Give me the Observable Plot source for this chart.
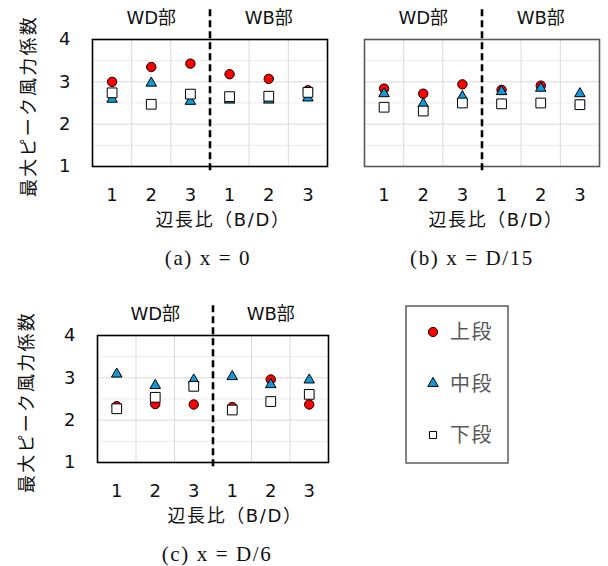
<!DOCTYPE html>
<html>
<head>
<meta charset="utf-8">
<script src="https://cdn.jsdelivr.net/npm/d3@7"></script>
<script src="https://cdn.jsdelivr.net/npm/@observablehq/plot@0.6"></script>
<style>
  body { margin: 0; background: #fff; }
  #root { position: relative; width: 608px; height: 566px; background: #fff; overflow: hidden; }
  .abs { position: absolute; white-space: nowrap; transform: translate(-50%, -50%); }
  .sans { font-family: "DejaVu Sans", "Noto Sans CJK JP", sans-serif; color: #111; }
  .serif { font-family: "Liberation Serif", "DejaVu Serif", serif; color: #111; }
  .ylab { transform: translate(-50%, -50%) rotate(-90deg); }
  .pl { position: absolute; }
</style>
</head>
<body>
<div id="root"></div>
<script>
// ---- data ----
const ratios = ["1", "2", "3", "1", "2", "3"];          // 辺長比 (B/D) tick labels
const groups = ["WD部", "WB部"];
const seriesNames = ["上段", "中段", "下段"];
const yTicks = [1, 2, 3, 4];
const yLabel = "最大ピーク風力係数";
const xLabel = "辺長比（B/D）";
const captions = ["(a) x = 0", "(b) x = D/15", "(c) x = D/6"];

// panel (a) x = 0
const upperA  = [3.00, 3.35, 3.43, 3.18, 3.07, 2.80];
const middleA = [2.59, 2.97, 2.54, 2.57, 2.57, 2.62];
const lowerA  = [2.74, 2.47, 2.71, 2.65, 2.66, 2.75];
// panel (b) x = D/15
const upperB  = [2.84, 2.72, 2.94, 2.81, 2.91, 2.46];
const middleB = [2.72, 2.48, 2.65, 2.77, 2.85, 2.72];
const lowerB  = [2.40, 2.31, 2.50, 2.48, 2.50, 2.46];
// panel (c) x = D/6
const upperC  = [2.33, 2.38, 2.37, 2.31, 2.96, 2.37];
const middleC = [3.09, 2.82, 2.95, 3.03, 2.84, 2.95];
const lowerC  = [2.27, 2.54, 2.80, 2.24, 2.44, 2.61];

// ---- styling ----
const FONT = '"DejaVu Sans", "Noto Sans CJK JP", sans-serif';
const RED = "#ff0000", BLUE = "#1499d8";
const n = ratios.length;
const idx = d3.range(1, n + 1);
const bandEdges = d3.range(1, n).map(i => i + 0.5);
const split = n / 2 + 0.5;
const gridMajor = [2, 3];
const gridMinor = [1.5, 2.5, 3.5];

function panel({upper, middle, lower, width, marginLeft, marginRight, showY, frameColor}) {
  const mk = vals => vals.map((v, i) => ({x: i + 1, y: v}));
  return Plot.plot({
    width, height: 240,
    marginLeft, marginRight, marginTop: 39, marginBottom: 74,
    style: {fontFamily: FONT, fontSize: "18px", color: "#111", background: "transparent", overflow: "visible"},
    x: {domain: [0.5, n + 0.5], ticks: idx, tickFormat: i => ratios[i - 1], tickSize: 0, tickPadding: 22, label: null},
    y: {domain: [1, 4], ticks: yTicks, tickFormat: d => String(d), tickSize: 0, tickPadding: 22, label: null, axis: showY ? "left" : null},
    marks: [
      Plot.ruleY(gridMinor, {stroke: "#ededed", strokeWidth: 1}),
      Plot.ruleY(gridMajor, {stroke: "#d9d9d9", strokeWidth: 1}),
      Plot.ruleX(bandEdges, {stroke: "#d9d9d9", strokeWidth: 1}),
      Plot.frame({stroke: frameColor, strokeWidth: 1.6}),
      Plot.ruleX([split], {y1: 0.9, y2: 4.73, stroke: "#000", strokeWidth: 2.6, strokeDasharray: "7,4"}),
      Plot.text(groups, {x: (d, i) => (i * n / 2) + (n / 4) + 0.5, y: 4.5, text: d => d, fontSize: 18, fill: "#111"}),
      Plot.dot(mk(upper), {x: "x", y: "y", symbol: "circle", r: 4.7, fill: RED, stroke: "#000", strokeWidth: 1}),
      Plot.dot(mk(middle), {x: "x", y: "y", symbol: "triangle", r: 3.9, fill: BLUE, stroke: "#000", strokeWidth: 1}),
      Plot.dot(mk(lower), {x: "x", y: "y", symbol: "square", r: 5.5, fill: "#fff", stroke: "#000", strokeWidth: 1})
    ]
  });
}

const root = document.getElementById("root");
function place(el, left, top) {
  const d = document.createElement("div");
  d.className = "pl";
  d.style.left = left + "px";
  d.style.top = top + "px";
  d.appendChild(el);
  root.appendChild(d);
}
function label(text, cx, cy, cls, size, spacing, extra) {
  const d = document.createElement("div");
  d.className = "abs " + cls + (extra ? " " + extra : "");
  d.textContent = text;
  d.style.left = cx + "px";
  d.style.top = cy + "px";
  d.style.fontSize = size + "px";
  d.style.letterSpacing = spacing + "px";
  root.appendChild(d);
}

place(panel({upper: upperA, middle: middleA, lower: lowerA, width: 330, marginLeft: 92, marginRight: 3, showY: true, frameColor: "#000"}), 0, 0);
place(panel({upper: upperB, middle: middleB, lower: lowerB, width: 278, marginLeft: 34, marginRight: 9, showY: false, frameColor: "#595959"}), 330, 0);
place(panel({upper: upperC, middle: middleC, lower: lowerC, width: 330, marginLeft: 97, marginRight: 2, showY: true, frameColor: "#000"}), 0, 296);

// axis labels & captions
label(yLabel, 27, 106, "sans", 18, 2.2, "ylab");
label(yLabel, 25, 402, "sans", 18, 2.2, "ylab");
label(xLabel, 223, 218, "sans", 18, 1.6);
label(xLabel, 496, 218, "sans", 18, 1.6);
label(xLabel, 235, 514, "sans", 18, 1.6);
label(captions[0], 208, 258, "serif", 21, 1.6);
label(captions[1], 472, 258, "serif", 21, 1.6);
label(captions[2], 217, 554, "serif", 21, 1.6);

// legend
const legW = 102, legH = 157;
const leg = d3.create("svg").attr("width", legW + 2).attr("height", legH + 2)
  .style("position", "absolute").style("left", "405px").style("top", "305px").style("overflow", "visible");
leg.append("rect").attr("x", 1).attr("y", 1).attr("width", legW).attr("height", legH)
  .attr("fill", "#fff").attr("stroke", "#444").attr("stroke-width", 1.3);
const legSyms = [
  {sym: d3.symbolCircle, r: 4.6, fill: RED},
  {sym: d3.symbolTriangle, r: 3.9, fill: BLUE},
  {sym: d3.symbolSquare, r: 4.0, fill: "#fff"}
];
seriesNames.forEach((name, i) => {
  const cy = 27 + i * 51.5;
  const s = legSyms[i];
  leg.append("path").attr("transform", `translate(28,${cy})`)
    .attr("d", d3.symbol(s.sym, Math.PI * s.r * s.r)())
    .attr("fill", s.fill).attr("stroke", "#000").attr("stroke-width", 1);
  leg.append("text").attr("x", 45).attr("y", cy).attr("dy", "0.36em")
    .attr("font-family", FONT).attr("font-size", 20).attr("letter-spacing", 1.5)
    .attr("fill", "#595959").text(name);
});
root.appendChild(leg.node());
</script>
</body>
</html>
